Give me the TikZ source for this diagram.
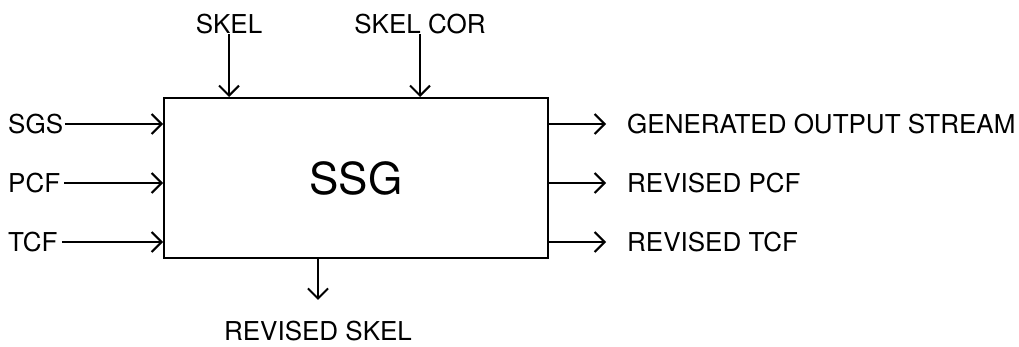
\documentclass[tikz,border=0pt]{standalone}
\usepackage{fontspec}
\setmainfont{TeX Gyre Heros}
\usetikzlibrary{arrows.meta}
\begin{document}
\begin{tikzpicture}[x=1pt,y=-1pt,
 lbl/.style={font=\fontsize{26}{30}\selectfont, inner sep=0pt},
 flow/.style={line width=2pt, -{Straight Barb[length=10pt,width=20pt,line width=2pt]}},
]
\useasboundingbox (0,0) rectangle (1019,347);
\node[draw, line width=2pt, minimum width=384pt, minimum height=160pt, anchor=north west, inner sep=0pt, font=\fontsize{44}{48}\selectfont] (ssg) at (163,97) {SSG};
% inputs
\node[lbl, anchor=west] (sgs) at (8,124) {SGS};
\node[lbl, anchor=west] (pcf) at (8,183) {PCF};
\node[lbl, anchor=west] (tcf) at (8,242) {TCF};
\draw[flow, shorten <=2pt] (sgs.east) -- (sgs.east -| ssg.west);
\draw[flow, shorten <=4pt] (pcf.east) -- (pcf.east -| ssg.west);
\draw[flow, shorten <=4pt] (tcf.east) -- (tcf.east -| ssg.west);
% controls
\node[lbl] (skel) at (229,24) {SKEL};
\node[lbl] (skelcor) at (420,24) {SKEL COR};
\draw[flow] (skel.south) -- (skel.south |- ssg.north);
\draw[flow] (skelcor.south) -- (skelcor.south |- ssg.north);
% outputs
\node[lbl, anchor=west] (gos) at (627,124) {GENERATED OUTPUT STREAM};
\node[lbl, anchor=west] (rpcf) at (627,183) {REVISED PCF};
\node[lbl, anchor=west] (rtcf) at (627,242) {REVISED TCF};
\draw[flow, shorten >=21pt] (ssg.east |- gos.west) -- (gos.west);
\draw[flow, shorten >=21pt] (ssg.east |- rpcf.west) -- (rpcf.west);
\draw[flow, shorten >=21pt] (ssg.east |- rtcf.west) -- (rtcf.west);
% bottom
\node[lbl] (rskel) at (318,331) {REVISED SKEL};
\draw[flow, shorten >=21pt] (ssg.south -| rskel.north) -- (rskel.north);
\end{tikzpicture}
\end{document}
